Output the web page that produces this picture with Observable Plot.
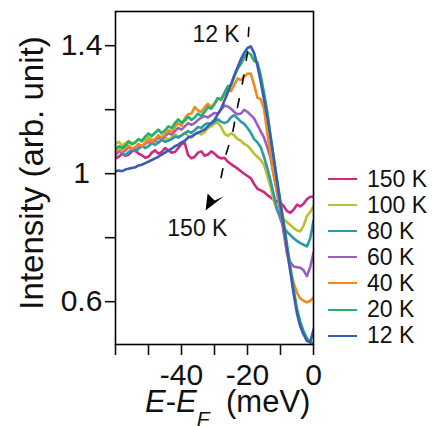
<!DOCTYPE html>
<html><head><meta charset="utf-8">
<script src="https://cdn.jsdelivr.net/npm/d3@7"></script>
<script src="https://cdn.jsdelivr.net/npm/@observablehq/plot@0.6"></script>
<style>
body{margin:0;background:#fff;font-family:"Liberation Sans",Arial,sans-serif;}
#wrap{position:relative;width:432px;height:426px;}
#legend{position:absolute;left:328px;top:166px;}
.row{display:flex;align-items:center;height:26.1px;font-size:23px;color:#111;}
.sw{width:29px;height:2px;margin-right:10px;}
</style></head><body><div id="wrap"><div id="legend"></div></div>
<script>
// Energy grid (meV)
const energy = [-60,-59,-58,-57,-56,-55,-54,-53,-52,-51,-50,-49,-48,-47,-46,-45,-44,-43,-42,-41,-40,-39,-38,-37,-36,-35,-34,-33,-32,-31,-30,-29,-28,-27,-26,-25,-24,-23,-22,-21,-20,-19,-18,-17,-16,-15,-14,-13,-12,-11,-10,-9,-8,-7,-6,-5,-4,-3,-2,-1,0];

const t150 = [1.040,1.045,1.055,1.048,1.052,1.062,1.065,1.055,1.050,1.042,1.045,1.058,1.065,1.055,1.060,1.072,1.065,1.058,1.060,1.072,1.085,1.088,1.050,1.040,1.045,1.058,1.062,1.048,1.052,1.062,1.055,1.045,1.040,1.042,1.030,1.022,1.015,1.008,1.000,0.992,0.985,0.978,0.960,0.945,0.940,0.935,0.925,0.918,0.910,0.905,0.902,0.890,0.875,0.870,0.880,0.895,0.890,0.898,0.912,0.920,0.920];
const t100 = [1.085,1.092,1.080,1.088,1.095,1.085,1.090,1.100,1.092,1.098,1.108,1.100,1.095,1.088,1.098,1.105,1.098,1.105,1.115,1.108,1.112,1.120,1.110,1.105,1.115,1.122,1.115,1.122,1.135,1.140,1.148,1.152,1.138,1.118,1.110,1.118,1.112,1.100,1.095,1.085,1.080,1.068,1.055,1.045,1.035,1.020,0.985,0.950,0.905,0.875,0.860,0.850,0.840,0.832,0.822,0.815,0.812,0.830,0.860,0.872,0.890];
const t80 = [1.055,1.062,1.058,1.050,1.060,1.068,1.062,1.070,1.080,1.072,1.078,1.088,1.082,1.090,1.098,1.092,1.095,1.100,1.108,1.105,1.112,1.118,1.125,1.120,1.128,1.138,1.135,1.145,1.150,1.148,1.155,1.162,1.155,1.150,1.155,1.168,1.175,1.165,1.155,1.148,1.135,1.120,1.100,1.090,1.075,1.045,1.010,0.970,0.925,0.880,0.850,0.825,0.810,0.800,0.790,0.782,0.775,0.770,0.765,0.790,0.845];
const t60 = [1.050,1.062,1.058,1.065,1.075,1.068,1.072,1.082,1.078,1.085,1.092,1.088,1.095,1.105,1.100,1.110,1.118,1.115,1.125,1.135,1.130,1.140,1.150,1.145,1.150,1.160,1.168,1.172,1.168,1.175,1.182,1.180,1.192,1.205,1.202,1.195,1.185,1.178,1.180,1.192,1.185,1.175,1.165,1.145,1.125,1.105,1.075,1.040,0.985,0.930,0.870,0.805,0.740,0.715,0.702,0.700,0.698,0.690,0.672,0.700,0.745];
const t40 = [1.060,1.068,1.062,1.072,1.080,1.070,1.075,1.085,1.078,1.088,1.098,1.092,1.100,1.112,1.105,1.115,1.128,1.122,1.138,1.150,1.142,1.165,1.178,1.180,1.200,1.190,1.185,1.200,1.210,1.200,1.212,1.228,1.222,1.240,1.255,1.250,1.270,1.290,1.285,1.295,1.305,1.305,1.270,1.230,1.225,1.195,1.120,1.050,0.985,0.935,0.885,0.820,0.745,0.690,0.650,0.620,0.602,0.595,0.590,0.595,0.605];
const t20 = [1.070,1.078,1.072,1.080,1.092,1.085,1.090,1.100,1.095,1.108,1.118,1.110,1.120,1.130,1.118,1.128,1.140,1.135,1.150,1.162,1.152,1.158,1.170,1.160,1.168,1.180,1.172,1.185,1.200,1.195,1.210,1.228,1.225,1.245,1.265,1.270,1.295,1.320,1.335,1.355,1.370,1.365,1.345,1.340,1.300,1.245,1.185,1.110,1.040,0.970,0.905,0.840,0.770,0.700,0.630,0.570,0.530,0.500,0.478,0.465,0.460];
const t12 = [1.000,1.002,1.000,1.005,1.008,1.010,1.012,1.018,1.020,1.025,1.030,1.035,1.040,1.045,1.052,1.058,1.065,1.070,1.078,1.083,1.090,1.095,1.105,1.108,1.115,1.120,1.125,1.130,1.140,1.150,1.160,1.178,1.195,1.220,1.245,1.270,1.300,1.325,1.350,1.370,1.385,1.390,1.370,1.330,1.280,1.225,1.170,1.105,1.035,0.965,0.895,0.825,0.755,0.685,0.615,0.555,0.515,0.490,0.470,0.465,0.505];

const temps = ["150 K","100 K","80 K","60 K","40 K","20 K","12 K"];
const colors = ["#cc2a7e","#b9c12e","#2a9bab","#9a5fc0","#ee8a1f","#22b070","#3b5cb3"];
const series = [t150,t100,t80,t60,t40,t20,t12];

const xTicks = [-60,-50,-40,-30,-20,-10,0];
const xLabels = ["","","-40","","-20","","0"];
const yTicks = [0.6,0.8,1.0,1.2,1.4];
const yLabels = ["0.6","","1","","1.4"];

// annotation: dashed guide from 12 K peak to 150 K hump, arrow tip, labels
const guideX = [-19.6,-20.0,-21.5,-23.0,-24.5,-26.7,-28.2];
const guideY = [1.449,1.371,1.277,1.202,1.121,1.046,0.971];
const tipX = [-32.7], tipY = [0.877];
const annText = ["12 K","150 K"], annX = [-36.7,-44.3], annY = [1.403,0.799];

const rows = series.flatMap((s,i)=> s.map((v,j)=>({E: energy[j], I: v, T: temps[i]})));
const guide = guideX.map((x,i)=>({x, y: guideY[i]}));
const tip = tipX.map((x,i)=>({x, y: tipY[i]}));
const ann = annText.map((t,i)=>({t, x: annX[i], y: annY[i]}));

const arrowSymbol = {draw(ctx){ ctx.moveTo(0,0); ctx.lineTo(2,-17); ctx.lineTo(9,-10); ctx.lineTo(18,-14); ctx.closePath(); }};

const plot = Plot.plot({
  width: 432, height: 426,
  marginLeft: 115, marginRight: 119, marginTop: 11, marginBottom: 82,
  style: {fontFamily: "'Liberation Sans', Arial, sans-serif", background: "white", color: "#111", overflow: "visible"},
  x: {domain: [-60, 0]},
  y: {domain: [0.4584, 1.499]},
  color: {domain: temps, range: colors},
  marks: [
    Plot.line(rows, {x: "E", y: "I", z: "T", stroke: "T", strokeWidth: 2.6, clip: true}),
    Plot.frame({stroke: "black", strokeWidth: 1.6}),
    Plot.axisX({ticks: xTicks, tickSize: 11, tickPadding: 8, strokeWidth: 1.6, fontSize: 30,
      tickFormat: d => xLabels[xTicks.indexOf(d)], label: null}),
    Plot.axisY({ticks: yTicks, tickSize: 10, tickPadding: 24, strokeWidth: 1.6, fontSize: 30, textAnchor: "middle", dy: 2.5,
      tickFormat: d => yLabels[yTicks.indexOf(d)], label: null}),
    Plot.line(guide, {x: "x", y: "y", stroke: "black", strokeWidth: 1.6, strokeDasharray: "9,15"}),
    Plot.dot(tip, {x: "x", y: "y", symbol: arrowSymbol, fill: "black", stroke: "none", r: 6}),
    Plot.text(ann, {x: "x", y: "y", text: "t", textAnchor: "start", lineAnchor: "bottom", fontSize: 23, fill: "#111"})
  ]
});

const svg = d3.select(plot);
svg.append("text").attr("transform", "translate(43,173) rotate(-90)")
  .attr("text-anchor", "middle").attr("font-size", 33).attr("fill", "#111")
  .text("Intensity (arb. unit)");
const xt = svg.append("text").attr("x", 145).attr("y", 412).attr("font-size", 31)
  .attr("text-anchor", "start").attr("fill", "#111");
xt.append("tspan").attr("font-style", "italic").text("E");
xt.append("tspan").text("-");
xt.append("tspan").attr("font-style", "italic").text("E");
xt.append("tspan").attr("font-style", "italic").attr("font-size", 21).attr("dy", 14).text("F");
xt.append("tspan").attr("x", 226).attr("dy", -14).text("(meV)");

document.getElementById("wrap").prepend(plot);

const leg = d3.select("#legend");
temps.forEach((t,i)=>{
  const r = leg.append("div").attr("class","row");
  r.append("div").attr("class","sw").style("background", colors[i]);
  r.append("span").text(t);
});
</script></body></html>
